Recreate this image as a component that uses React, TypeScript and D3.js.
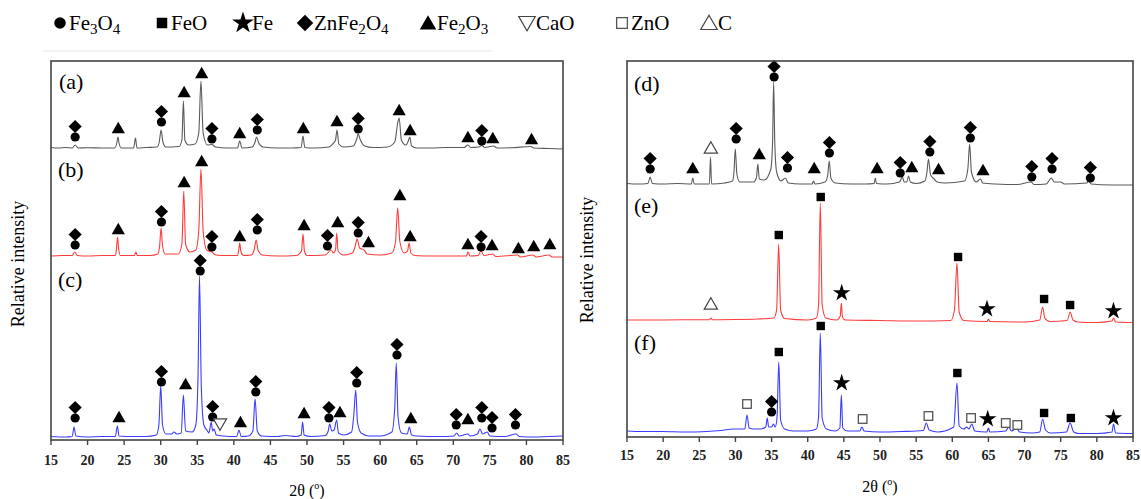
import React from 'react';
import * as d3 from 'd3';

// ---------- DATA ----------
const X_TICKS = [15, 20, 25, 30, 35, 40, 45, 50, 55, 60, 65, 70, 75, 80, 85];

const LEGEND_SYMBOLS = ['c', 's', 'st', 'd', 't', 'v', 'o', 'u'];
const LEGEND_LABELS = ['Fe_3O_4', 'FeO', 'Fe', 'ZnFe_2O_4', 'Fe_2O_3', 'CaO', 'ZnO', 'C'];

// [2θ, intensity above the curve's baseline]
const curveA: [number, number][] = [
  [15, 0.5], [16, 0], [17, 0.5], [17.9, 0], [18.3, 3], [18.7, 0], [20, 0.3], [22, 0], [23.7, 0], [24.0, 5], [24.15, 11], [24.3, 5], [24.6, 0],
  [26.3, 0], [26.55, 10], [26.75, 0], [28, 0.5], [29.5, 1], [29.8, 6], [30.05, 18], [30.3, 6], [30.7, 1], [32.5, 1.5], [32.9, 8], [33.1, 47],
  [33.3, 8], [33.8, 3], [34.7, 4], [35.2, 15], [35.5, 67], [35.8, 15], [36.4, 3], [37.0, 3.5], [37.5, 1], [39, 0], [40.5, 0], [40.8, 7], [41.1, 0],
  [42.5, 1], [42.9, 6], [43.1, 11], [43.4, 5], [44, 1], [46, 0], [48, 0], [49.2, 0.5], [49.45, 12], [49.7, 0.5], [51, 0], [53, 1], [53.5, 4],
  [53.9, 8], [54.1, 18], [54.35, 4], [55, 1], [56.3, 2], [56.8, 9], [57.0, 14], [57.3, 8], [57.9, 2], [59, 0.5], [61, 1], [62, 6], [62.4, 25],
  [62.6, 30], [62.9, 8], [63.5, 3], [63.85, 7], [64.05, 11], [64.3, 2], [65, 0], [67, 0], [69, 0.5], [71.5, 0.5], [72, 3], [72.4, 0.5], [73.5, 1],
  [73.9, 2.5], [74.3, 0.5], [75.5, 2], [76, 0], [78, 0.3], [80.6, 1.5], [81, 0], [83, -0.5], [85, -1],
];
const curveB: [number, number][] = [
  [15, 0], [16.5, 0.5], [17.9, 0.5], [18.25, 4], [18.6, 0.5], [20, 0], [22, 0.5], [23.8, 0.5], [23.95, 7], [24.1, 19], [24.25, 7], [24.5, 0.5],
  [26.4, 0.5], [26.6, 4], [26.8, 0.5], [28.5, 0.5], [29.6, 2], [29.85, 10], [30.05, 28], [30.25, 10], [30.6, 2], [32.4, 2], [32.9, 12], [33.15, 65],
  [33.4, 12], [34, 4], [34.8, 6], [35.2, 25], [35.5, 87], [35.8, 25], [36.3, 6], [37, 4], [37.5, 1], [39, 0.5], [40.5, 0.5], [40.65, 5], [40.8, 13],
  [40.95, 5], [41.3, 0.5], [42.4, 1], [42.8, 7], [43.05, 16], [43.3, 6], [43.9, 1], [46, 0], [48.5, 0.5], [49.25, 5], [49.45, 22], [49.65, 5],
  [50, 0.5], [52.5, 1], [53.3, 6], [53.6, 3], [53.9, 6], [54.06, 23], [54.25, 5], [55, 1], [56.2, 3], [56.6, 10], [56.85, 17], [57.2, 8], [57.8, 6],
  [58.2, 2], [60, 1], [61.6, 3], [62.1, 14], [62.4, 48], [62.7, 14], [63.3, 3], [63.75, 5], [63.95, 13], [64.2, 3], [64.8, 0.5], [67, 0], [70, 0],
  [71.8, 0], [72.0, 4], [72.3, 0], [73.4, 0.5], [73.8, 5], [74.2, 0.5], [75.4, 2], [75.8, -0.5], [78.8, 1], [79.2, -1], [80.9, 1], [81.3, -1],
  [83.1, 1], [83.5, -1], [85, -1],
];
const curveC: [number, number][] = [
  [15, 0.5], [17, 0], [17.9, 0.5], [18.15, 10], [18.4, 1], [20, 0], [22, 0.5], [23.8, 0.5], [24.07, 11], [24.3, 1], [26, 0.5], [28, 0.5],
  [29.4, 2], [29.75, 12], [30.0, 51], [30.25, 12], [30.7, 3], [31.5, 3], [31.8, 5], [32.2, 3], [32.8, 4], [33.1, 42], [33.4, 6], [34.3, 5],
  [34.8, 12], [35.1, 60], [35.3, 161], [35.55, 50], [35.9, 12], [36.4, 6], [36.6, 4], [36.9, 15], [37.1, 6], [37.3, 8], [37.6, 2], [38.5, 1],
  [40.4, 0.5], [40.7, 7], [41, 0.5], [42, 1], [42.6, 6], [42.9, 38], [43.2, 6], [43.8, 1], [46, 0.5], [47, 1.5], [48.5, 0.5], [49.2, 2],
  [49.4, 15], [49.6, 2], [50.5, 0.5], [52.5, 1.5], [52.9, 6], [53.1, 13], [53.4, 6], [53.7, 7], [54.06, 17], [54.3, 4], [55, 2], [56.1, 5],
  [56.4, 22], [56.66, 47], [56.9, 15], [57.4, 4], [58.5, 1], [60, 1], [61.6, 5], [62.0, 30], [62.2, 74], [62.45, 20], [62.9, 4], [63.7, 3],
  [63.99, 10], [64.3, 2], [65, 1], [68, 0.5], [70.1, 1], [70.47, 4], [70.8, 1], [72, 3], [72.3, 1], [73.3, 3], [73.65, 8], [74, 3], [74.65, 5],
  [75, 1], [77, 0.5], [78.6, 3], [79, 0.5], [81, 0], [83, 0.5], [85, 1],
];
const curveD: [number, number][] = [
  [15, 0.5], [16.5, 0], [17.9, 0.5], [18.2, 7], [18.5, 0.5], [20, 0], [22, 0.5], [23.9, 0], [24.1, 6], [24.3, 0], [26.4, 0], [26.55, 27],
  [26.7, 0], [28.5, 1], [29.6, 3], [29.8, 12], [29.98, 35], [30.2, 10], [30.6, 2], [32.5, 2], [32.9, 6], [33.1, 20], [33.3, 5], [34, 4],
  [34.9, 15], [35.15, 45], [35.28, 102], [35.45, 40], [35.7, 12], [36.3, 3], [36.9, 6], [37.3, 1], [39, 0], [40.6, 0], [40.8, 3], [41.0, 0],
  [42.4, 2], [42.75, 8], [42.98, 23], [43.2, 6], [43.8, 1], [46, 0], [48, 0], [49.2, 0.5], [49.35, 6], [49.5, 0.5], [51, 0], [52.7, 2], [53.1, 7],
  [53.35, 2], [53.7, 2], [53.95, 8], [54.2, 2], [55, 0.5], [56.2, 3], [56.5, 12], [56.7, 25], [57.0, 9], [57.5, 5], [57.9, 2], [59, 1], [61.7, 3],
  [62.15, 15], [62.4, 40], [62.65, 12], [63.3, 2], [63.9, 5], [64.2, 1], [66, 0], [69, -0.5], [70.9, 2], [71.3, -0.5], [73, 0], [73.7, 6],
  [74.1, 2], [75, 2], [75.5, 0], [78.6, 1], [78.85, 3], [79.2, 0], [82, -1], [85, -1],
];
const curveE: [number, number][] = [
  [15, 0], [20, 0], [25, 0.3], [26.4, 0.3], [26.6, 2], [26.8, 0.3], [30, 0.5], [33, 1], [35.3, 2], [35.7, 10], [35.98, 76], [36.25, 10],
  [36.8, 1.5], [40, 0], [41.2, 2], [41.5, 15], [41.74, 117], [42.0, 15], [42.5, 2], [44, 0], [44.5, 4], [44.65, 17], [44.8, 3], [45.2, 0],
  [50, -0.5], [55, -1], [59.8, -0.5], [60.3, 10], [60.65, 57], [60.95, 8], [61.6, -0.5], [64.8, -1.5], [65.0, 1], [65.2, -1.5], [70, -2],
  [72.1, 0], [72.5, 13], [72.8, 2], [73.5, -1.5], [75.9, -0.5], [76.3, 8], [76.7, 0], [77.3, -2], [80, -2.5], [82.1, -1], [82.3, 2],
  [82.6, -2], [85, -2.5],
];
const curveF: [number, number][] = [
  [15, 1], [17, 0.5], [20, 0.5], [23, 0], [26, 0.5], [28, 1.5], [29.8, 3], [31.3, 3], [31.6, 17], [31.9, 4], [32.5, 3], [33.5, 3], [34.2, 5],
  [34.4, 14], [34.6, 5], [35.0, 5], [35.25, 8], [35.5, 5], [35.75, 14], [36.0, 70], [36.25, 12], [36.8, 3], [38, 1], [40, 1], [41.2, 3],
  [41.5, 15], [41.74, 99], [42.0, 14], [42.6, 3], [43.8, 1], [44.45, 4], [44.65, 37], [44.85, 4], [45.5, 1], [47.2, 1], [47.5, 5], [47.8, 1],
  [50, 0], [53, 0.5], [56.0, 1.5], [56.4, 9], [56.8, 2], [58, 0], [60.2, 5], [60.65, 49], [60.95, 6], [61.6, 3], [62.0, 5], [62.3, 3], [62.7, 8],
  [63.1, 1], [64.8, 0], [65.0, 4], [65.2, 0], [67.4, 1], [67.8, 5], [68.2, 1], [68.9, 4], [69.3, 0], [71, -1], [72.1, 0], [72.5, 13], [72.9, 2],
  [73.6, -1], [75.8, 0], [76.3, 9], [76.8, 0], [77.5, -1.5], [80, -1.5], [82.1, 0], [82.3, 8], [82.6, -1], [85, -1.5],
];

// Phase markers: [2θ, symbols top-to-bottom, height of lowest symbol above baseline]
const markersA: [number, string, number][] = [
  [18.3, 'dc', 11], [24.2, 't', 20], [30.1, 'dc', 26], [33.2, 't', 56], [35.6, 't', 75], [37.0, 'dc', 9], [40.8, 't', 15], [43.2, 'dc', 18],
  [49.5, 't', 20], [54.1, 't', 27], [57.0, 'dc', 19], [62.6, 't', 38], [64.1, 't', 18], [72.0, 't', 11], [73.9, 'dc', 7], [75.4, 't', 10],
  [80.7, 't', 9],
];
const markersB: [number, string, number][] = [
  [18.3, 'dc', 11], [24.2, 't', 27], [30.1, 'dc', 34], [33.2, 't', 74], [35.6, 't', 95], [37.0, 'dc', 9], [40.8, 't', 20], [43.2, 'dc', 26],
  [49.6, 't', 31], [52.8, 'dc', 10], [54.2, 't', 34], [57.0, 'dc', 23], [58.4, 't', 14], [62.7, 't', 61], [64.1, 't', 20], [72.0, 't', 12],
  [73.8, 'dc', 9], [75.3, 't', 11], [78.9, 't', 8], [81.0, 't', 10], [83.2, 't', 12],
];
const markersC: [number, string, number][] = [
  [18.3, 'dc', 19], [24.3, 't', 20], [30.1, 'dc', 55], [33.4, 't', 53], [35.4, 'dc', 166], [37.1, 'dc', 20], [38.1, 'v', 13], [40.9, 't', 15],
  [43.0, 'dc', 45], [49.6, 't', 24], [53.0, 'dc', 19], [54.5, 't', 25], [56.8, 'dc', 54], [62.3, 'dc', 82], [64.2, 't', 19], [70.4, 'dc', 12],
  [72.0, 't', 18], [73.9, 'dc', 19], [75.3, 'dc', 9], [78.5, 'dc', 12],
];
const markersD: [number, string, number][] = [
  [18.2, 'dc', 15], [24.1, 't', 16], [26.6, 'u', 36], [30.1, 'dc', 45], [33.3, 't', 30], [35.35, 'dc', 107], [37.2, 'dc', 16], [40.9, 't', 16],
  [43.0, 'dc', 31], [49.6, 't', 16], [52.8, 'dc', 11], [54.4, 't', 17], [56.9, 'dc', 32], [58.1, 't', 15], [62.5, 'dc', 46], [64.25, 't', 14],
  [71.0, 'dc', 7], [73.8, 'dc', 15], [79.1, 'dc', 6],
];
const markersE: [number, string, number][] = [
  [26.6, 'u', 16], [36.0, 's', 85], [41.8, 's', 123], [44.7, 'st', 27], [60.8, 's', 63], [64.8, 'st', 11], [72.7, 's', 21], [76.3, 's', 15],
  [82.3, 'st', 9],
];
const markersF: [number, string, number][] = [
  [31.6, 'o', 28], [35.0, 'dc', 20], [36.0, 's', 80], [41.8, 's', 106], [44.7, 'st', 49], [47.6, 'o', 13], [56.7, 'o', 16], [60.7, 's', 59],
  [62.6, 'o', 14], [64.9, 'st', 13], [67.4, 'o', 9], [69.0, 'o', 7], [72.7, 's', 19], [76.4, 's', 14], [82.3, 'st', 14],
];

const CURVE_LABELS = ['(a)', '(b)', '(c)', '(d)', '(e)', '(f)'];

// ---------- LAYOUT ----------
const FONT_STYLE = { fontFamily: "'Liberation Serif', 'Times New Roman', 'DejaVu Serif', serif" };
const GRAY = '#5a5a5a';
const RED = '#ff3b3b';
const BLUE = '#3b3bff';

const PANELS = [
  {
    x0: 51, x1: 563, yTop: 61, yBot: 440, ymax: 379, tickY: 465, xLabelX: 307, xLabelY: 496, yLabelX: 24, yLabelY: 264,
    curves: [
      { pts: curveA, markers: markersA, base: 292, color: GRAY, label: CURVE_LABELS[0], lx: 59, ly: 89 },
      { pts: curveB, markers: markersB, base: 184, color: RED, label: CURVE_LABELS[1], lx: 58, ly: 177 },
      { pts: curveC, markers: markersC, base: 3, color: BLUE, label: CURVE_LABELS[2], lx: 58, ly: 287 },
    ],
  },
  {
    x0: 627, x1: 1133, yTop: 61, yBot: 437, ymax: 376, tickY: 460, xLabelX: 880, xLabelY: 492, yLabelX: 593, yLabelY: 260,
    curves: [
      { pts: curveD, markers: markersD, base: 253, color: GRAY, label: CURVE_LABELS[3], lx: 634, ly: 91 },
      { pts: curveE, markers: markersE, base: 117, color: RED, label: CURVE_LABELS[4], lx: 634, ly: 213 },
      { pts: curveF, markers: markersF, base: 5, color: BLUE, label: CURVE_LABELS[5], lx: 634, ly: 350 },
    ],
  },
];

const LEGEND_X = [60, 162, 243, 305, 428, 527, 622, 709];

function Symbol({ type, x, y, k = 1 }: { type: string; x: number; y: number; k?: number }) {
  const t = `translate(${x},${y}) scale(${k})`;
  switch (type) {
    case 'c':
      return <circle cx={x} cy={y} r={4.6 * k} fill="#000" />;
    case 'd':
      return <path transform={t} d="M0,-6.6L6.6,0L0,6.6L-6.6,0Z" fill="#000" />;
    case 't':
      return <path transform={t} d="M0,-6.2L6.6,5.2L-6.6,5.2Z" fill="#000" />;
    case 's':
      return <rect transform={t} x={-4.2} y={-4.2} width={8.4} height={8.4} fill="#000" />;
    case 'st':
      return <path transform={t} d={d3.symbol(d3.symbolStar, 95)() || ''} fill="#000" />;
    case 'o':
      return <rect transform={t} x={-4.3} y={-4.3} width={8.6} height={8.6} fill="#fff" stroke="#555" strokeWidth={1.3 / k} />;
    case 'v':
      return <path transform={t} d="M-6.6,-5.2L6.6,-5.2L0,6.2Z" fill="#fff" stroke="#444" strokeWidth={1.2 / k} />;
    case 'u':
      return <path transform={t} d="M0,-6.2L6.6,5.2L-6.6,5.2Z" fill="#fff" stroke="#444" strokeWidth={1.2 / k} />;
    default:
      return null;
  }
}

function SubText({ s, x, y, size }: { s: string; x: number; y: number; size: number }) {
  const parts = s.split(/(_\d)/).filter((p) => p.length > 0);
  return (
    <text x={x} y={y} style={FONT_STYLE} fontSize={size} fill="#000">
      {parts.map((p, i) =>
        p.startsWith('_') ? (
          <tspan key={i} fontSize={size * 0.72} dy={4}>{p.slice(1)}</tspan>
        ) : (
          <tspan key={i} dy={i > 0 && parts[i - 1].startsWith('_') ? -4 : 0}>{p}</tspan>
        ),
      )}
    </text>
  );
}

export default function App() {
  return (
    <svg width={1141} height={499} style={{ position: 'absolute', left: 0, top: 0, background: '#fff' }}>
      <rect x={0} y={0} width={1141} height={499} fill="#fff" />
      {/* legend */}
      {LEGEND_SYMBOLS.map((sym, i) => (
        <g key={sym}>
          <Symbol type={sym} x={LEGEND_X[i]} y={23} k={1.25} />
          <SubText s={LEGEND_LABELS[i]} x={LEGEND_X[i] + 9} y={30} size={21} />
        </g>
      ))}
      <line x1={43} x2={492} y1={51} y2={51} stroke="#e6e6e6" strokeWidth={1} />
      {PANELS.map((p, pi) => {
        const x = d3.scaleLinear().domain([15, 85]).range([p.x0, p.x1]);
        const y = d3.scaleLinear().domain([0, p.ymax]).range([p.yBot, p.yTop]);
        return (
          <g key={pi}>
            {p.curves.map((c, ci) => {
              const line = d3
                .line<[number, number]>()
                .x((d) => x(d[0]))
                .y((d) => y(c.base + d[1]))
                .curve(d3.curveMonotoneX);
              return (
                <g key={ci}>
                  <path d={line(c.pts) || ''} fill="none" stroke={c.color} strokeWidth={1.1} strokeLinejoin="round" />
                  {c.markers.map((m, mi) => {
                    const syms = m[1] === 'dc' ? ['d', 'c'] : [m[1]];
                    const n = syms.length;
                    return (
                      <g key={mi}>
                        {syms.map((s, si) => (
                          <Symbol key={si} type={s} x={x(m[0])} y={y(c.base + m[2] + (n - 1 - si) * 10.5)} />
                        ))}
                      </g>
                    );
                  })}
                  <text x={c.lx} y={c.ly} style={FONT_STYLE} fontSize={22} fill="#000">{c.label}</text>
                </g>
              );
            })}
            <rect x={p.x0} y={p.yTop} width={p.x1 - p.x0} height={p.yBot - p.yTop} fill="none" stroke="#444" strokeWidth={1.6} />
            {X_TICKS.map((t) => (
              <g key={t}>
                <line x1={x(t)} x2={x(t)} y1={p.yBot} y2={p.yBot + 5} stroke="#444" strokeWidth={1.4} />
                <text x={x(t)} y={p.tickY} textAnchor="middle" style={FONT_STYLE} fontSize={14} fontWeight={600} fill="#222">{t}</text>
              </g>
            ))}
            <text x={p.xLabelX} y={p.xLabelY} textAnchor="middle" style={FONT_STYLE} fontSize={16} fill="#000">
              2θ (<tspan fontSize={10} dy={-7}>o</tspan><tspan dy={7}>)</tspan>
            </text>
            <text
              transform={`translate(${p.yLabelX},${p.yLabelY}) rotate(-90)`}
              textAnchor="middle"
              style={FONT_STYLE}
              fontSize={18}
              fill="#000"
            >
              Relative intensity
            </text>
          </g>
        );
      })}
    </svg>
  );
}
